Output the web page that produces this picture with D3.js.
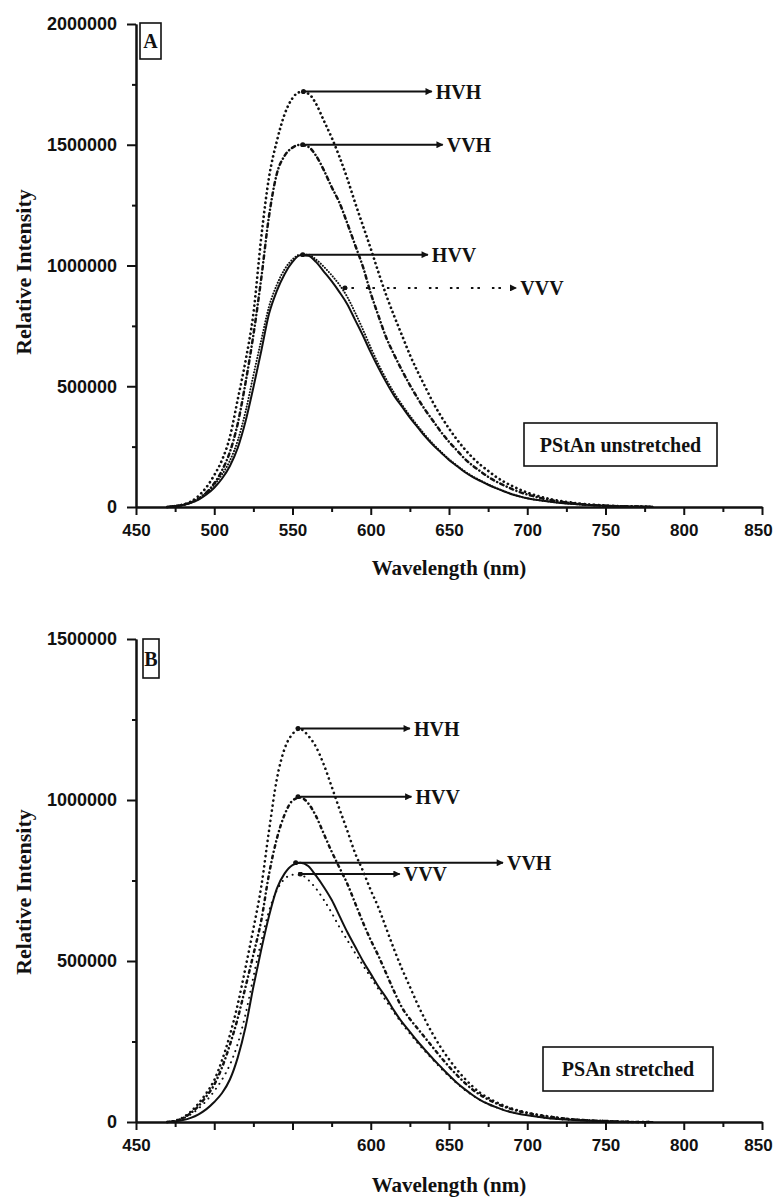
<!DOCTYPE html>
<html>
<head>
<meta charset="utf-8">
<script src="https://cdn.jsdelivr.net/npm/d3@7/dist/d3.min.js"></script>
<style>
  html, body { margin: 0; padding: 0; background: #fff; }
  svg { display: block; }
  .tick-label { font-family: "Liberation Sans", Arial, sans-serif; font-weight: bold; font-size: 18px; fill: #111; }
  .xtick .tick-label { font-size: 17px; }
  .title { font-family: "Liberation Serif", "Times New Roman", serif; font-weight: bold; font-size: 21px; fill: #111; }
  .ytitle { font-size: 22px; }
  .note { font-family: "Liberation Serif", "Times New Roman", serif; font-weight: bold; font-size: 20px; fill: #111; }
</style>
</head>
<body>
<svg id="chart" width="776" height="1197"></svg>
<script>
// Emission wavelengths (nm) shared by every spectrum
const wavelength = [470,475,480,485,490,495,500,505,510,515,520,525,530,535,540,545,550,555,560,565,
  570,575,580,585,590,595,600,605,610,615,620,625,630,635,640,645,650,655,660,665,670,675,680,685,690,
  695,700,710,720,730,740,750,760,770,780];

// Relative intensity in thousands of counts
// Panel A: PStAn unstretched
const hvhA = [0,4,10,22,46,82,132,195,290,445,605,800,1115,1365,1515,1627,1693,1718,1712,1670,
  1600,1530,1450,1360,1260,1165,1070,970,875,790,710,630,560,495,430,375,325,280,240,205,175,150,125,105,88,
  73,60,40,26,17,10,6,3,2,1];
const vvhA = [0,4,8,18,34,60,98,152,228,345,515,712,945,1205,1380,1455,1488,1500,1492,1455,
  1395,1325,1260,1175,1085,995,885,790,700,630,565,505,450,400,355,310,270,235,200,172,148,125,106,90,75,
  62,52,35,23,15,9,5,3,2,1];
const hvvA = [0,3,8,17,31,52,80,118,170,245,355,495,645,800,895,965,1015,1042,1040,1015,
  975,935,890,840,775,710,640,575,515,460,415,370,330,290,255,225,195,170,145,125,108,92,78,65,53,
  44,36,26,18,12,8,5,3,2,1];
const vvvA = [0,4,10,20,36,60,92,135,192,275,395,545,690,830,920,985,1025,1045,1045,1025,
  995,960,920,870,805,735,660,590,528,472,423,378,336,296,260,228,198,172,148,127,110,94,79,66,54,
  44,36,26,18,12,8,5,3,2,1];

// Panel B: PSAn stretched
const hvhB = [0,4,14,32,58,90,130,192,270,365,480,600,730,905,1065,1160,1205,1220,1200,1165,
  1110,1042,972,905,835,780,720,665,600,535,475,420,365,315,270,230,195,163,135,111,90,75,62,51,42,
  35,29,20,13,8,5,3,1,0,0];
const hvvB = [0,3,12,28,50,80,116,170,240,322,420,520,625,770,880,955,998,1008,990,950,
  895,840,790,740,680,620,565,515,460,405,355,320,290,260,230,200,172,146,122,101,84,70,58,48,40,
  33,28,19,13,8,5,3,1,0,0];
const vvhB = [0,2,6,13,24,40,62,90,132,200,295,420,535,640,725,772,798,805,795,765,
  730,690,640,590,545,500,460,420,385,345,310,280,250,222,195,170,145,122,102,84,68,56,46,37,30,
  25,21,14,9,6,4,2,1,0,0];
const vvvB = [0,4,11,24,42,66,96,132,178,243,335,450,560,655,720,755,768,768,752,725,
  690,650,605,565,525,487,450,412,375,340,305,275,245,218,192,166,142,120,100,83,68,56,46,38,31,
  25,21,14,9,6,4,2,1,0,0];

// Axis ticks
const xMajor = [450,500,550,600,650,700,750,800,850];
const xMinor = [475,525,575,625,675,725,775,825];
const xLabelsB = [450,600,650,700,750,800,850];
const yMajorA = [0,500000,1000000,1500000,2000000];
const yMinorA = [250000,750000,1250000,1750000];
const yMajorB = [0,500000,1000000,1500000];
const yMinorB = [250000,750000,1250000];

// Peak markers: label, intensity, start / end wavelength of the pointer
const notesA = ["HVH","VVH","HVV","VVV"];
const notesAy = [1720000,1500000,1045000,907000];
const notesAx0 = [557,556.5,556.5,583.5];
const notesAx1 = [639,646,636.5,693];
const notesB = ["HVH","HVV","VVH","VVV"];
const notesBy = [1222000,1010000,805000,770000];
const notesBx0 = [553.5,553.5,552,555];
const notesBx1 = [625,626,684.5,618.5];

const svg = d3.select("#chart");
const defs = svg.append("defs");
defs.append("marker").attr("id","head").attr("markerUnits","userSpaceOnUse")
  .attr("viewBox","0 0 10 10").attr("refX",9).attr("refY",5)
  .attr("markerWidth",9).attr("markerHeight",7).attr("orient","auto")
  .append("path").attr("d","M0,0L10,5L0,10Z").attr("fill","#111");
defs.append("marker").attr("id","dot").attr("markerUnits","userSpaceOnUse")
  .attr("viewBox","0 0 10 10").attr("refX",5).attr("refY",5)
  .attr("markerWidth",5).attr("markerHeight",5)
  .append("circle").attr("cx",5).attr("cy",5).attr("r",5).attr("fill","#111");

function panel(cfg) {
  const x = d3.scaleLinear().domain([450,850]).range([136,762]);
  const y = d3.scaleLinear().domain([0,cfg.yMax]).range([cfg.y0, cfg.yTop]);
  const g = svg.append("g");

  // axes
  const yAxis = d3.axisLeft(y).tickValues(cfg.yMajor).tickSize(9).tickSizeOuter(0)
    .tickPadding(10).tickFormat(d3.format("d"));
  g.append("g").attr("transform",`translate(136,0)`).call(yAxis);
  g.append("g").attr("transform",`translate(136,0)`)
    .call(d3.axisLeft(y).tickValues(cfg.yMinor).tickSize(4).tickSizeOuter(0).tickFormat(""));
  const xAxis = d3.axisBottom(x).tickValues(xMajor).tickSize(8).tickSizeOuter(0).tickPadding(9)
    .tickFormat(d => cfg.xLabels.includes(d) ? d : "");
  const gx = g.append("g").attr("class","xtick").attr("transform",`translate(0,${cfg.y0})`).call(xAxis);
  g.append("g").attr("transform",`translate(0,${cfg.y0})`)
    .call(d3.axisBottom(x).tickValues(xMinor).tickSize(5).tickSizeOuter(0).tickFormat(""));
  g.selectAll(".domain, .tick line").attr("stroke","#111").attr("stroke-width",2);
  g.selectAll(".tick text").attr("class","tick-label").attr("font-family",null).attr("font-size",null);
  // keep the last wavelength label inside the canvas
  gx.selectAll(".tick text").filter(d => d === 850).attr("dx",-4);

  // spectra
  const line = d3.line().x((d,i) => x(wavelength[i])).y(d => y(d*1000)).curve(d3.curveMonotoneX);
  cfg.series.forEach(s => {
    g.append("path").datum(s.values).attr("d",line).attr("fill","none")
      .attr("stroke","#111").attr("stroke-width",s.width)
      .attr("stroke-linecap","round").attr("stroke-dasharray",s.dash || null);
  });

  // peak pointers
  cfg.notes.forEach((t,i) => {
    const yy = y(cfg.notesY[i]);
    g.append("line").attr("x1",x(cfg.notesX0[i])).attr("x2",x(cfg.notesX1[i]))
      .attr("y1",yy).attr("y2",yy).attr("stroke","#111").attr("stroke-width",2)
      .attr("stroke-dasharray",cfg.noteDash[i] || null)
      .attr("marker-start","url(#dot)").attr("marker-end","url(#head)");
    g.append("text").attr("class","note").attr("x",x(cfg.notesX1[i]) + 4).attr("y",yy + 7).text(t);
  });

  // panel letter
  g.append("rect").attr("x",cfg.tag.x).attr("y",cfg.tag.y).attr("width",cfg.tag.w).attr("height",cfg.tag.h)
    .attr("fill","none").attr("stroke","#111").attr("stroke-width",1.6);
  g.append("text").attr("class","note").attr("font-size","18px").attr("text-anchor","middle")
    .attr("x",cfg.tag.x + cfg.tag.w/2).attr("y",cfg.tag.y + cfg.tag.h/2 + 7).text(cfg.tag.t);

  // sample box
  g.append("rect").attr("x",cfg.box.x).attr("y",cfg.box.y).attr("width",cfg.box.w).attr("height",cfg.box.h)
    .attr("fill","none").attr("stroke","#111").attr("stroke-width",1.6);
  g.append("text").attr("class","note").attr("text-anchor","middle")
    .attr("x",cfg.box.x + cfg.box.w/2).attr("y",cfg.box.y + cfg.box.h/2 + 7).text(cfg.box.t);

  // axis titles
  g.append("text").attr("class","title").attr("text-anchor","middle")
    .attr("x",449).attr("y",cfg.xTitleY).text("Wavelength (nm)");
  g.append("text").attr("class","title ytitle").attr("text-anchor","middle")
    .attr("transform",`translate(31,${cfg.yTitleY}) rotate(-90)`).text("Relative Intensity");
}

panel({
  yMax: 2000000, y0: 507, yTop: 24, yMajor: yMajorA, yMinor: yMinorA, xLabels: xMajor,
  series: [
    {values: hvvA, width: 2},
    {values: vvvA, width: 2, dash: "0.1,2.8"},
    {values: vvhA, width: 2.5, dash: "3.5,3.5,0.1,3.5"},
    {values: hvhA, width: 2.7, dash: "0.1,4.6"}
  ],
  notes: notesA, notesY: notesAy, notesX0: notesAx0, notesX1: notesAx1,
  noteDash: [null,null,null,"2.5,4,2.5,12"],
  tag: {x:140, y:23, w:21, h:36, t:"A"},
  box: {x:524, y:423, w:193, h:43, t:"PStAn unstretched"},
  xTitleY: 575, yTitleY: 272
});

panel({
  yMax: 1500000, y0: 1122, yTop: 639, yMajor: yMajorB, yMinor: yMinorB, xLabels: xLabelsB,
  series: [
    {values: vvhB, width: 2},
    {values: vvvB, width: 2, dash: "0.1,6"},
    {values: hvvB, width: 2.5, dash: "2.5,4,0.1,4"},
    {values: hvhB, width: 2.6, dash: "0.1,5"}
  ],
  notes: notesB, notesY: notesBy, notesX0: notesBx0, notesX1: notesBx1,
  noteDash: [null,null,null,null],
  tag: {x:143, y:639, w:16, h:39, t:"B"},
  box: {x:543, y:1047, w:170, h:44, t:"PSAn stretched"},
  xTitleY: 1192, yTitleY: 892
});
</script>
</body>
</html>
